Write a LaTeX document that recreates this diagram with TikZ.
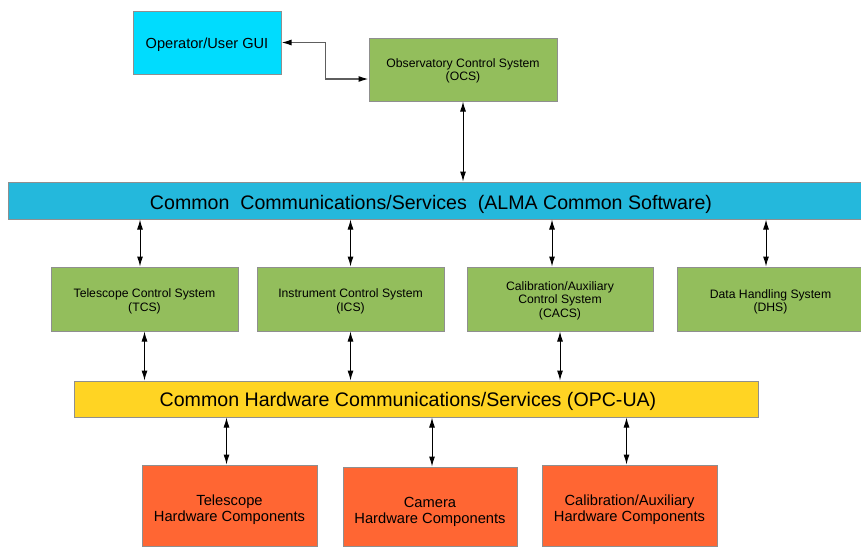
\documentclass[tikz,border=0pt]{standalone}
\usepackage{fontspec}
\setmainfont{Liberation Sans}
\usepackage{tikz}
\usetikzlibrary{arrows.meta,calc,positioning}
\definecolor{guicyan}{HTML}{00DCFE}
\definecolor{sysgreen}{HTML}{93BE5C}
\definecolor{buscyan}{HTML}{24B8DC}
\definecolor{busyellow}{HTML}{FFD423}
\definecolor{hworange}{HTML}{FF6633}
\definecolor{edgegray}{HTML}{8F8F8F}
\definecolor{linkgray}{HTML}{5E5E5E}
\tikzset{%
	block/.style    = {draw=edgegray, line width=1pt, rectangle, inner sep=0pt, align=center, text depth=0pt}, % any box
	gui/.style      = {block, fill=guicyan, minimum width=148pt, minimum height=63pt, text height=12.7pt, font=\fontsize{14.6}{16}\selectfont}, % GUI
	system/.style   = {block, fill=sysgreen, minimum width=187pt, minimum height=64pt, text height=24pt, font=\fontsize{12.2}{13.4}\selectfont}, % control systems
	bus/.style      = {block, minimum height=37pt}, % common services
	bustext/.style  = {font=\fontsize{19.6}{21}\selectfont, inner sep=0pt}, % bus label
	hardware/.style = {block, fill=hworange, minimum width=175pt, minimum height=81pt, text height=32pt, font=\fontsize{14.7}{15.8}\selectfont}, % hardware
	link/.style     = {<->, line width=1pt}, % connector
}

\begin{document}
\begin{tikzpicture}[x=1pt, y=-1pt, >={Latex[length=10pt,width=6pt,black]}]
		\useasboundingbox (0,0) rectangle (861,547);
		% top level
		\node[gui] (gui) at (207,42.5) {Operator/User GUI};
		\node[system, minimum width=188pt, minimum height=63pt, text height=22.5pt] (ocs) at (463,69.5) {Observatory Control System\\(OCS)};
		% software bus
		\node[bus, fill=buscyan, minimum width=858pt] (acs) at (437,200.5) {};
		\node[bustext] (acstext) at (431,204) {Common\ \ Communications/Services\ \ (ALMA Common Software)};
		% control systems
		\node[system] (tcs) at (144.5,299) {Telescope Control System\\(TCS)};
		\node[system] (ics) at (350.5,299) {Instrument Control System\\(ICS)};
		\node[system, minimum width=186pt, text height=36pt] (cacs) at (560,299) {Calibration/Auxiliary\\Control System\\(CACS)};
		\node[system, text height=25pt] (dhs) at (770.5,299) {Data Handling System\\(DHS)};
		% hardware bus
		\node[bus, fill=busyellow, minimum width=684pt, minimum height=36pt] (opc) at (416,399) {};
		\node[bustext] (opctext) at (408,401.5) {Common Hardware Communications/Services (OPC-UA)};
		% hardware
		\node[hardware] (thw) at (229.5,505.5) {Telescope\\Hardware Components};
		\node[hardware, minimum width=174pt, minimum height=79pt, text height=34.5pt] (chw) at (430,506.5) {Camera\\Hardware Components};
		\node[hardware] (cahw) at (629.5,505.5) {Calibration/Auxiliary\\Hardware Components};
		% connectors
		\draw[link, draw=linkgray, line width=1.3pt] (gui.east) -- ++(44,0) |- ([yshift=-9.5pt]ocs.west);
		\draw[link] (ocs.south) -- (ocs.south |- acs.north);
		\draw[link] ([xshift=-4.5pt]tcs.north |- acs.south) -- ([xshift=-4.5pt]tcs.north);
		\draw[link] (ics.north |- acs.south) -- (ics.north);
		\draw[link] ([xshift=-8pt]cacs.north |- acs.south) -- ([xshift=-8pt]cacs.north);
		\draw[link] ([xshift=-4.5pt]dhs.north |- acs.south) -- ([xshift=-4.5pt]dhs.north);
		\draw[link] (tcs.south) -- (tcs.south |- opc.north);
		\draw[link] (ics.south) -- (ics.south |- opc.north);
		\draw[link] (cacs.south) -- (cacs.south |- opc.north);
		\draw[link] ([xshift=-3pt]thw.north |- opc.south) -- ([xshift=-3pt]thw.north);
		\draw[link] ([xshift=2pt]chw.north |- opc.south) -- ([xshift=2pt]chw.north);
		\draw[link] ([xshift=-3pt]cahw.north |- opc.south) -- ([xshift=-3pt]cahw.north);
		\end{tikzpicture}
\end{document}
